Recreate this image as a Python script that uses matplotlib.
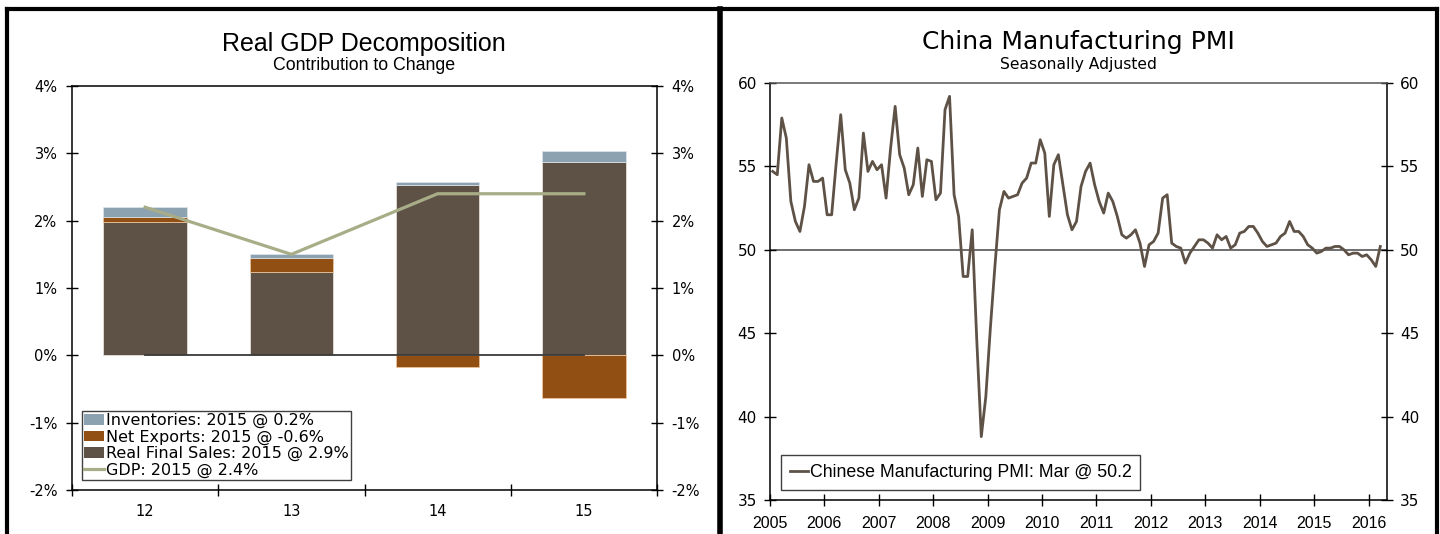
import matplotlib
matplotlib.use('Agg')
import matplotlib.pyplot as plt
from matplotlib.lines import Line2D
from matplotlib.patches import Patch
import numpy as np

# Real GDP decomposition, contribution to change (percentage points)
years = ['12', '13', '14', '15']
real_final_sales = [1.98, 1.24, 2.53, 2.87]
net_exports = [0.07, 0.20, -0.18, -0.63]
inventories = [0.15, 0.06, 0.05, 0.17]
gdp = [2.20, 1.50, 2.40, 2.40]

# China manufacturing PMI, monthly from Jan 2005 to Mar 2016
pmi_start = 2005
pmi_last_month = 'Mar'
pmi = [
    54.7, 54.5, 57.9, 56.7, 52.9, 51.7, 51.1, 52.6, 55.1, 54.1, 54.1, 54.3,
    52.1, 52.1, 55.2, 58.1, 54.8, 54.0, 52.4, 53.1, 57.0, 54.7, 55.3, 54.8,
    55.1, 53.1, 56.1, 58.6, 55.7, 54.9, 53.3, 53.9, 56.1, 53.2, 55.4, 55.3,
    53.0, 53.4, 58.4, 59.2, 53.3, 52.0, 48.4, 48.4, 51.2, 44.6, 38.8, 41.2,
    45.3, 49.0, 52.4, 53.5, 53.1, 53.2, 53.3, 54.0, 54.3, 55.2, 55.2, 56.6,
    55.8, 52.0, 55.1, 55.7, 53.9, 52.1, 51.2, 51.7, 53.8, 54.7, 55.2, 53.9,
    52.9, 52.2, 53.4, 52.9, 52.0, 50.9, 50.7, 50.9, 51.2, 50.4, 49.0, 50.3,
    50.5, 51.0, 53.1, 53.3, 50.4, 50.2, 50.1, 49.2, 49.8, 50.2, 50.6, 50.6,
    50.4, 50.1, 50.9, 50.6, 50.8, 50.1, 50.3, 51.0, 51.1, 51.4, 51.4, 51.0,
    50.5, 50.2, 50.3, 50.4, 50.8, 51.0, 51.7, 51.1, 51.1, 50.8, 50.3, 50.1,
    49.8, 49.9, 50.1, 50.1, 50.2, 50.2, 50.0, 49.7, 49.8, 49.8, 49.6, 49.7,
    49.4, 49.0, 50.2,
]

sales_color = '#5e5247'
nx_color = '#924f14'
inv_color = '#8ca2b1'
gdp_color = '#a8ad88'
pmi_color = '#5e5247'

W, H = 1440, 534
fig = plt.figure(figsize=(W / 100, H / 100), dpi=100)

arial = ['Liberation Sans', 'DejaVu Sans']
verdana = ['DejaVu Sans']

# ---------------- left panel: GDP bars ----------------
ax1 = fig.add_axes([72 / W, 1 - 490 / H, 585 / W, 404 / H])
x = np.arange(len(years))
rfs = np.array(real_final_sales)
nx = np.array(net_exports)
inv = np.array(inventories)
nx_bottom = np.where(nx >= 0, rfs, 0)
inv_bottom = rfs + np.clip(nx, 0, None)

bw = 0.57
ax1.bar(x, rfs, bw, color=sales_color, edgecolor='#efe9e2', linewidth=0.5, zorder=2)
ax1.bar(x, nx, bw, bottom=nx_bottom, color=nx_color, edgecolor='#f2c9a0', linewidth=0.5, zorder=2)
ax1.bar(x, inv, bw, bottom=inv_bottom, color=inv_color, edgecolor='#dde6ec', linewidth=0.5, zorder=2)
ax1.plot(x, np.zeros(len(x)), color='#3a3a3a', lw=1.3, zorder=3)
ax1.plot(x, gdp, color=gdp_color, lw=2.3, zorder=4)

ax1.set_xlim(-0.5, len(years) - 0.5)
ax1.set_ylim(-2, 4)
ax1.set_yticks(np.arange(-2, 5, 1))
ax1.set_yticklabels([f'{v}%' for v in range(-2, 5)])
ax1.set_xticks(np.arange(len(years) + 1) - 0.5)
ax1.set_xticklabels([])
ax1.set_xticks(x, minor=True)
ax1.set_xticklabels(years, minor=True)
ax1.tick_params(axis='x', which='major', direction='inout', length=9, width=1)
ax1.tick_params(axis='x', which='minor', length=0, pad=10)
ax1.tick_params(axis='y', direction='inout', length=9, width=1, pad=6,
                left=True, right=True, labelleft=True, labelright=True)
for lab in ax1.get_xticklabels(minor=True) + ax1.get_yticklabels():
    lab.set_fontfamily(verdana)
    lab.set_fontsize(10.5)
for sp in ax1.spines.values():
    sp.set_linewidth(1.1)

handles = [
    Patch(facecolor=inv_color, label=f'Inventories: 20{years[-1]} @ {inventories[-1]:.1f}%'),
    Patch(facecolor=nx_color, label=f'Net Exports: 20{years[-1]} @ {net_exports[-1]:.1f}%'),
    Patch(facecolor=sales_color, label=f'Real Final Sales: 20{years[-1]} @ {real_final_sales[-1]:.1f}%'),
    Line2D([], [], color=gdp_color, lw=2.3, label=f'GDP: 20{years[-1]} @ {gdp[-1]:.1f}%'),
]
leg1 = ax1.legend(handles=handles, loc='lower left', bbox_to_anchor=(0.017, 0.024),
                  prop={'family': verdana, 'size': 11.5}, frameon=True, fancybox=False,
                  edgecolor='#404040', framealpha=1, borderpad=0.15, labelspacing=0.08,
                  handlelength=1.25, handleheight=0.65, handletextpad=0.1, borderaxespad=0)
leg1.get_frame().set_linewidth(1.0)

fig.text(364 / W, 1 - 44 / H, 'Real GDP Decomposition', ha='center', va='center',
         family=arial, fontsize=18)
fig.text(364 / W, 1 - 66 / H, 'Contribution to Change', ha='center', va='center',
         family=arial, fontsize=12.8)

# ---------------- right panel: PMI line ----------------
ax2 = fig.add_axes([770 / W, 1 - 500 / H, 617 / W, 417 / H])
t = pmi_start + (np.arange(len(pmi)) + 0.6) / 12
ax2.axhline(50, color='#555555', lw=1.2, zorder=1)
ax2.plot(t, pmi, color=pmi_color, lw=2.0, zorder=3,
         label=f'Chinese Manufacturing PMI: {pmi_last_month} @ {pmi[-1]:.1f}')
ax2.set_xlim(2005, 2016.34)
ax2.set_ylim(35, 60)
ax2.set_yticks(np.arange(35, 61, 5))
ax2.set_xticks(np.arange(2005, 2017))
ax2.tick_params(axis='x', direction='inout', length=9, width=1, pad=7)
ax2.tick_params(axis='y', direction='inout', length=9, width=1, pad=5,
                left=True, right=True, labelleft=True, labelright=True)
for lab in ax2.get_yticklabels():
    lab.set_fontfamily(verdana)
    lab.set_fontsize(11)
for lab in ax2.get_xticklabels():
    lab.set_fontfamily(arial)
    lab.set_fontsize(11.5)
for sp in ax2.spines.values():
    sp.set_linewidth(1.1)
ax2.spines['top'].set_color('#555555')

leg2 = ax2.legend(loc='lower left', bbox_to_anchor=(0.018, 0.024),
                  prop={'family': arial, 'size': 12.8}, frameon=True, fancybox=False,
                  edgecolor='#404040', framealpha=1, borderpad=0.5,
                  handlelength=1.0, handletextpad=0.1, borderaxespad=0)
leg2.get_frame().set_linewidth(1.0)

fig.text(1078 / W, 1 - 42 / H, 'China Manufacturing PMI', ha='center', va='center',
         family=verdana, fontsize=18)
fig.text(1078 / W, 1 - 65 / H, 'Seasonally Adjusted', ha='center', va='center',
         family=verdana, fontsize=11.2)

# ---------------- panel frames ----------------
def fig_line(x0, y0, x1, y1, lw):
    fig.add_artist(Line2D([x0 / W, x1 / W], [1 - y0 / H, 1 - y1 / H],
                          color='black', lw=lw, solid_capstyle='projecting'))

fig_line(7, 9, 1437, 9, 3)
fig_line(7, 9, 7, H + 5, 3)
fig_line(720, 9, 720, H + 5, 4)
fig_line(1437, 9, 1437, H + 5, 3)

fig.savefig('out.png', dpi=100)
